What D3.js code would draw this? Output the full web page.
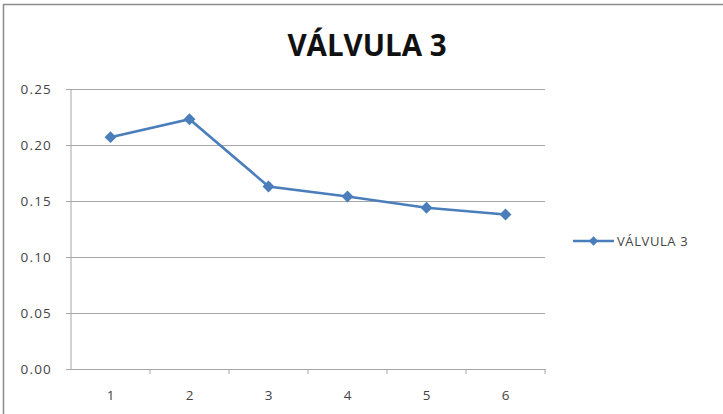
<!DOCTYPE html>
<html>
<head>
<meta charset="utf-8">
<script src="https://cdn.jsdelivr.net/npm/d3@7"></script>
<style>
  body { margin: 0; background: #fff; }
  svg text { font-family: "Open Sans", "DejaVu Sans", sans-serif; }
</style>
</head>
<body>
<script>
// chart data
var categories = ["1", "2", "3", "4", "5", "6"];
var values = [0.207, 0.223, 0.163, 0.154, 0.144, 0.138];
var yTicks = [0, 0.05, 0.10, 0.15, 0.20, 0.25];
var seriesName = "VÁLVULA 3";
var title = "VÁLVULA 3";

var W = 723, H = 414;
var margin = {top: 89, left: 71, right: 178, bottom: 45};
var width = W - margin.left - margin.right,
    height = H - margin.top - margin.bottom;

var blue = "#4a7ebb";

var svg = d3.select("body").append("svg")
    .attr("width", W)
    .attr("height", H);

// outer chart frame (right/bottom edges fall outside the view)
svg.append("rect")
    .attr("x", 3.5).attr("y", 4.5)
    .attr("width", W + 10).attr("height", H + 10)
    .attr("fill", "#fff")
    .attr("stroke", "#8c8c8c")
    .attr("stroke-width", 1.5);

svg.append("text")
    .attr("x", 367)
    .attr("y", 56)
    .attr("text-anchor", "middle")
    .style("font-size", "29.5px")
    .style("font-weight", "700")
    .attr("fill", "#111")
    .text(title);

var g = svg.append("g")
    .attr("transform", "translate(" + margin.left + "," + margin.top + ")");

var x = d3.scaleBand().domain(categories).range([0, width]);
var y = d3.scaleLinear().domain([0, 0.25]).range([height, 0]);

// gridlines + y axis
var yAxis = d3.axisLeft(y)
    .tickValues(yTicks)
    .tickSize(-width)
    .tickPadding(19)
    .tickFormat(d3.format(".2f"));

g.append("g")
    .attr("class", "y axis")
    .call(yAxis)
    .call(function (s) {
        s.select(".domain").remove();
        s.selectAll(".tick line")
            .attr("x1", -5)
            .attr("stroke", "#a6a6a6");
        s.selectAll(".tick text")
            .attr("fill", "#444")
            .style("font-size", "13.5px")
            .style("letter-spacing", "1.2px");
    });

// vertical axis line
g.append("line")
    .attr("x1", 0).attr("x2", 0)
    .attr("y1", 0).attr("y2", height)
    .attr("stroke", "#a6a6a6");

// x axis with ticks at category boundaries
var xAxis = d3.axisBottom(x).tickSize(0).tickPadding(21);
g.append("g")
    .attr("class", "x axis")
    .attr("transform", "translate(0," + height + ")")
    .call(xAxis)
    .call(function (s) {
        s.select(".domain").attr("stroke", "#a6a6a6");
        s.selectAll(".tick text")
            .attr("fill", "#444")
            .style("font-size", "13.5px");
    });

g.append("g").selectAll("line")
    .data(categories)
    .enter().append("line")
    .attr("x1", function (d) { return x(d) + x.bandwidth(); })
    .attr("x2", function (d) { return x(d) + x.bandwidth(); })
    .attr("y1", height).attr("y2", height + 5)
    .attr("stroke", "#a6a6a6");

// the series
var line = d3.line()
    .x(function (d, i) { return x(categories[i]) + x.bandwidth() / 2; })
    .y(function (d) { return y(d); });

g.append("path")
    .datum(values)
    .attr("fill", "none")
    .attr("stroke", blue)
    .attr("stroke-width", 2.6)
    .attr("d", line);

var diamond = d3.symbol().type(d3.symbolDiamond2).size(90);
g.selectAll(".dot")
    .data(values)
    .enter().append("path")
    .attr("class", "dot")
    .attr("transform", function (d, i) {
        return "translate(" + (x(categories[i]) + x.bandwidth() / 2) + "," + y(d) + ")";
    })
    .attr("d", diamond)
    .attr("fill", blue);

// legend
var lg = svg.append("g").attr("transform", "translate(573,241)");
lg.append("line")
    .attr("x1", 0).attr("x2", 41)
    .attr("stroke", blue)
    .attr("stroke-width", 2.6);
lg.append("path")
    .attr("transform", "translate(20.5,0)")
    .attr("d", d3.symbol().type(d3.symbolDiamond2).size(55))
    .attr("fill", blue);
lg.append("text")
    .attr("x", 44)
    .attr("y", 5)
    .attr("fill", "#444")
    .style("font-size", "13px")
    .style("letter-spacing", "0.6px")
    .text(seriesName);
</script>
</body>
</html>
